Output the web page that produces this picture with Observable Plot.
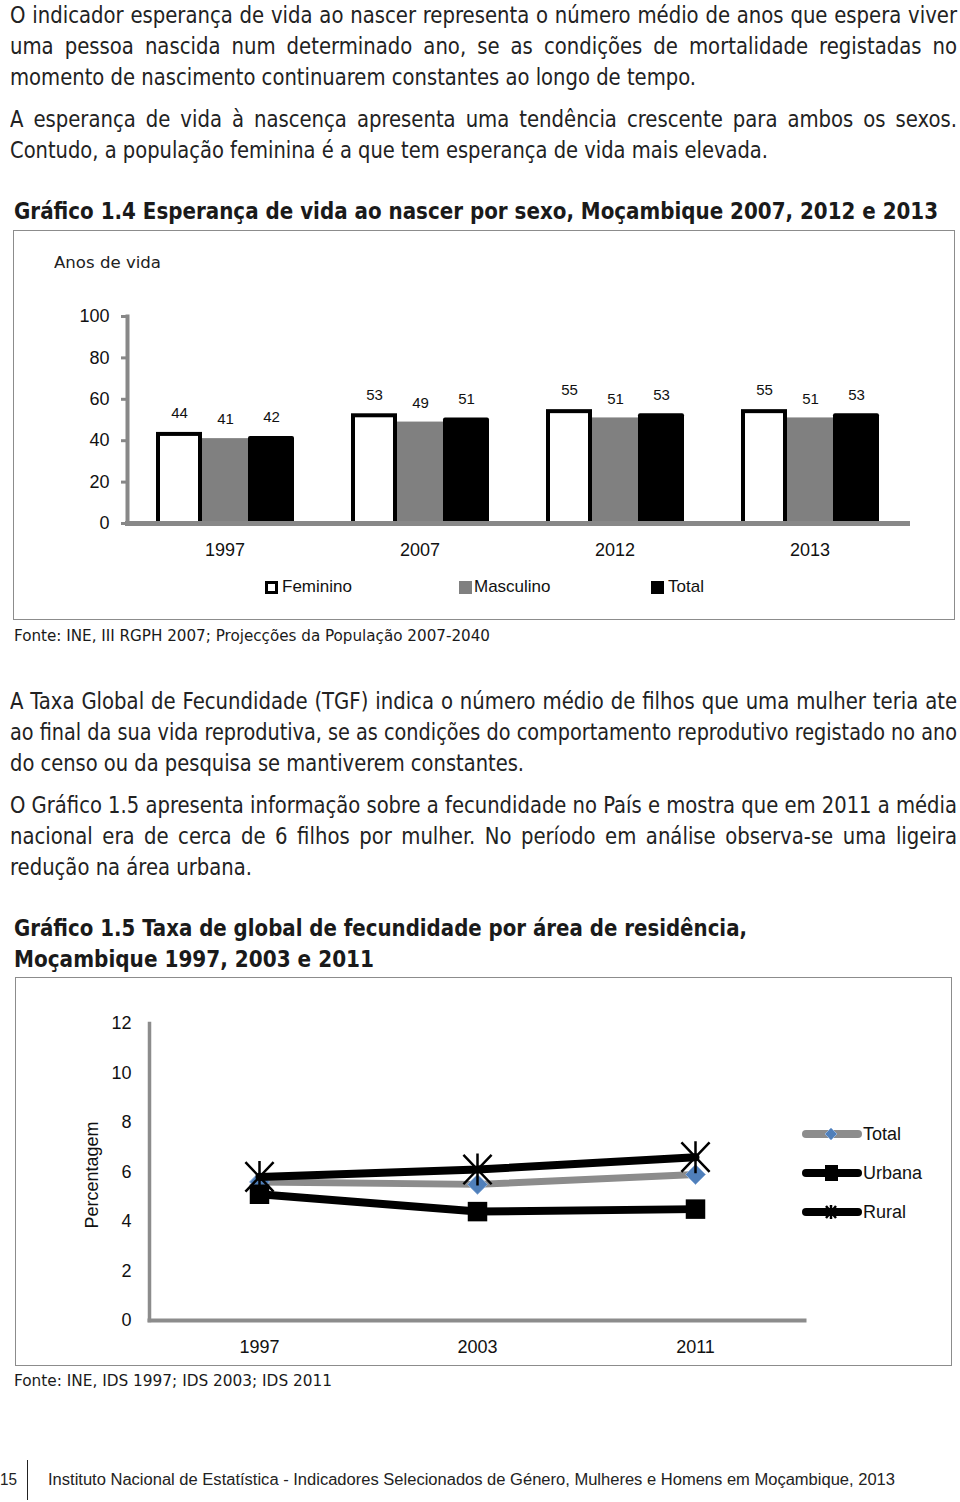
<!DOCTYPE html>
<html><head><meta charset="utf-8">
<script src="https://cdn.jsdelivr.net/npm/d3@7"></script>
<script src="https://cdn.jsdelivr.net/npm/@observablehq/plot@0.6"></script>
<style>
html,body{margin:0;padding:0;background:#fff;}
#page{position:relative;width:960px;height:1502px;overflow:hidden;font-family:"DejaVu Sans Condensed","DejaVu Sans",sans-serif;color:#222;}
.ln{position:absolute;white-space:nowrap;line-height:30px;height:30px;transform-origin:0 50%;}
.p{font-size:23px;}
.h{font-size:23px;font-weight:bold;color:#1a1a1a;}
.src{font-size:16px;color:#1a1a1a;}
.box{position:absolute;border:1px solid #8c8c8c;box-sizing:border-box;}
.box svg{position:absolute;left:0;top:0;}
.ar{font-family:"Liberation Sans",Arial,sans-serif;color:#111;}
.leg{position:absolute;font-size:17px;line-height:20px;height:20px;white-space:nowrap;}
.sw{position:absolute;box-sizing:border-box;}
</style></head>
<body><div id="page">
<div class="ln p" data-j="1" data-w="947" style="left:10px;top:0px">O indicador esperança de vida ao nascer representa o número médio de anos que espera viver</div>
<div class="ln p" data-j="1" data-w="947" style="left:10px;top:31px">uma pessoa nascida num determinado ano, se as condições de mortalidade registadas no</div>
<div class="ln p" data-w="686" style="left:10px;top:62px">momento de nascimento continuarem constantes ao longo de tempo.</div>
<div class="ln p" data-j="1" data-w="947" style="left:10px;top:104px">A esperança de vida à nascença apresenta uma tendência crescente para ambos os sexos.</div>
<div class="ln p" data-w="758" style="left:10px;top:135px">Contudo, a população feminina é a que tem esperança de vida mais elevada.</div>
<div class="ln h" data-w="924" style="left:14px;top:196px">Gráfico 1.4 Esperança de vida ao nascer por sexo, Moçambique 2007, 2012 e 2013</div>

<div class="box" id="box1" style="left:13px;top:230px;width:942px;height:390px;">
  <div class="ln" data-w="107" style="left:40px;top:17px;font-family:'DejaVu Sans',sans-serif;font-size:15px;color:#222">Anos de vida</div>
  <div id="chart1"></div>
  <div class="sw" style="left:251px;top:350px;width:13px;height:13px;border:3px solid #000;background:#fff"></div>
  <div class="leg ar" style="left:268px;top:346px">Feminino</div>
  <div class="sw" style="left:445px;top:350px;width:13px;height:13px;background:#808080"></div>
  <div class="leg ar" style="left:460px;top:346px">Masculino</div>
  <div class="sw" style="left:637px;top:350px;width:13px;height:13px;background:#000"></div>
  <div class="leg ar" style="left:654px;top:346px">Total</div>
</div>
<div class="ln src" data-w="476" style="left:14px;top:621px">Fonte: INE, III RGPH 2007; Projecções da População 2007-2040</div>

<div class="ln p" data-j="1" data-w="947" style="left:10px;top:686px">A Taxa Global de Fecundidade (TGF) indica o número médio de filhos que uma mulher teria ate</div>
<div class="ln p" data-j="1" data-w="947" style="left:10px;top:717px">ao final da sua vida reprodutiva, se as condições do comportamento reprodutivo registado no ano</div>
<div class="ln p" data-w="514" style="left:10px;top:748px">do censo ou da pesquisa se mantiverem constantes.</div>
<div class="ln p" data-j="1" data-w="947" style="left:10px;top:790px">O Gráfico 1.5 apresenta informação sobre a fecundidade no País e mostra que em 2011 a média</div>
<div class="ln p" data-j="1" data-w="947" style="left:10px;top:821px">nacional era de cerca de 6 filhos por mulher. No período em análise observa-se uma ligeira</div>
<div class="ln p" data-w="242" style="left:10px;top:852px">redução na área urbana.</div>
<div class="ln h" data-w="733" style="left:14px;top:913px">Gráfico 1.5 Taxa de global de fecundidade por área de residência,</div>
<div class="ln h" data-w="360" style="left:14px;top:944px">Moçambique 1997, 2003 e 2011</div>

<div class="box" id="box2" style="left:15px;top:977px;width:937px;height:389px;">
  <div id="chart2"></div>
  <div class="ar" style="position:absolute;left:76px;top:197px;font-size:18px;line-height:20px;white-space:nowrap;transform:translate(-50%,-50%) rotate(-90deg);">Percentagem</div>
  <div id="legend2"></div>
</div>
<div class="ln src" data-w="318" style="left:14px;top:1366px">Fonte: INE, IDS 1997; IDS 2003; IDS 2011</div>

<div class="ln ar" data-w="17" style="left:0px;top:1465px;font-size:16px;color:#222">15</div>
<div style="position:absolute;left:27px;top:1460px;width:1px;height:40px;background:#222"></div>
<div class="ln ar" data-w="847" style="left:48px;top:1465px;font-size:16px;color:#222">Instituto Nacional de Estatística - Indicadores Selecionados de Género, Mulheres e Homens em Moçambique, 2013</div>
</div>

<script>
// ---- Gráfico 1.4 data ----
const years1 = ["1997", "2007", "2012", "2013"];
const sexos = ["Feminino", "Masculino", "Total"];
const feminino = [44, 53, 55, 55];
const masculino = [41, 49, 51, 51];
const totalVida = [42, 51, 53, 53];
const yTicks1 = [0, 20, 40, 60, 80, 100];

// ---- Gráfico 1.5 data ----
const years2 = ["1997", "2003", "2011"];
const series2 = ["Total", "Urbana", "Rural"];
const tgfTotal = [5.6, 5.5, 5.9];
const tgfUrbana = [5.1, 4.4, 4.5];
const tgfRural = [5.8, 6.1, 6.6];
const yTicks2 = [0, 2, 4, 6, 8, 10, 12];

const data1 = years1.flatMap((yr, i) => [
  {year: yr, sexo: sexos[0], value: feminino[i]},
  {year: yr, sexo: sexos[1], value: masculino[i]},
  {year: yr, sexo: sexos[2], value: totalVida[i]}
]);
const data2 = [[tgfTotal, series2[0]], [tgfUrbana, series2[1]], [tgfRural, series2[2]]]
  .flatMap(([vals, s]) => years2.map((yr, i) => ({serie: s, year: yr, value: vals[i]})));

const starSymbol = {
  draw(ctx, size) {
    const r = Math.sqrt(size / Math.PI);
    ctx.moveTo(0, -r); ctx.lineTo(0, r);
    ctx.moveTo(-0.88 * r, -0.92 * r); ctx.lineTo(0.88 * r, 0.92 * r);
    ctx.moveTo(0.88 * r, -0.92 * r); ctx.lineTo(-0.88 * r, 0.92 * r);
  }
};

const font = "'Liberation Sans', Arial, sans-serif";

function chart1(useSuper) {
  const marks = [
    Plot.barY(data1.filter(d => d.sexo === "Masculino"), {fx: "year", x: "sexo", y: "value", fill: "#808080"}),
    Plot.barY(data1.filter(d => d.sexo === "Total"), {fx: "year", x: "sexo", y: "value", fill: "#000", rx: 2}),
    Plot.barY(data1.filter(d => d.sexo === "Feminino"), {fx: "year", x: "sexo", y: "value", fill: "#fff", stroke: "#000", strokeWidth: 4, insetLeft: 2, insetRight: 2, insetTop: 2}),
    Plot.text(data1, {fx: "year", x: "sexo", y: "value", text: d => String(d.value), dy: -19, fontSize: 15, fill: "#111"}),
    Plot.axisY({ticks: yTicks1, tickSize: 6, tickPadding: 12, stroke: "#888", strokeWidth: 3, fill: "#111", fontSize: 18, label: null}),
    Plot.axisFx({anchor: "bottom", tickSize: 0, tickPadding: 20, fontSize: 18, fill: "#111", label: null})
  ];
  if (useSuper) {
    marks.push(Plot.frame({anchor: "left", stroke: "#888", strokeWidth: 4, facet: "super"}));
    marks.push(Plot.frame({anchor: "bottom", stroke: "#888", strokeWidth: 5, facet: "super"}));
  } else {
    marks.push(Plot.ruleY([0], {stroke: "#888", strokeWidth: 5}));
  }
  return Plot.plot({
    width: 940, height: 342,
    marginLeft: 112, marginRight: 47, marginTop: 85, marginBottom: 50,
    style: {fontFamily: font, background: "transparent", overflow: "visible"},
    fx: {domain: years1, padding: 0, label: null},
    x: {domain: sexos, paddingInner: 0, paddingOuter: 0.588, axis: null},
    y: {domain: [0, 100], label: null},
    marks
  });
}
let p1;
try { p1 = chart1(true); } catch (e) { console.error(e); p1 = chart1(false); }
document.getElementById("chart1").appendChild(p1);

const sel = s => data2.filter(d => d.serie === s);
const p2 = Plot.plot({
  width: 935, height: 387,
  marginLeft: 133, marginRight: 147, marginTop: 45, marginBottom: 45,
  style: {fontFamily: font, background: "transparent", overflow: "visible"},
  x: {type: "point", domain: years2, padding: 0.5, label: null},
  y: {domain: [0, 12], label: null},
  marks: [
    Plot.frame({anchor: "left", stroke: "#8c8c8c", strokeWidth: 3.5}),
    Plot.frame({anchor: "bottom", stroke: "#8c8c8c", strokeWidth: 4}),
    Plot.axisY({ticks: yTicks2, tickSize: 0, tickPadding: 18, fontSize: 18, fill: "#111", label: null}),
    Plot.axisX({tickSize: 0, tickPadding: 20, fontSize: 18, fill: "#111", label: null}),
    Plot.line(sel("Total"), {x: "year", y: "value", stroke: "#8c8c8c", strokeWidth: 7}),
    Plot.dot(sel("Total"), {x: "year", y: "value", symbol: "diamond2", r: 9, fill: "#4f7fba", stroke: "#8fb0da", strokeWidth: 1}),
    Plot.line(sel("Urbana"), {x: "year", y: "value", stroke: "#000", strokeWidth: 8}),
    Plot.dot(sel("Urbana"), {x: "year", y: "value", symbol: "square", r: 11, fill: "#000"}),
    Plot.line(sel("Rural"), {x: "year", y: "value", stroke: "#000", strokeWidth: 8}),
    Plot.dot(sel("Rural"), {x: "year", y: "value", symbol: starSymbol, r: 16, fill: "none", stroke: "#000", strokeWidth: 2.5})
  ]
});
document.getElementById("chart2").appendChild(p2);

// legend for chart 2
const legendDefs = [
  {name: series2[0], top: 146, stroke: "#8c8c8c", marker: '<path d="M30,4 L36,10 L30,16 L24,10 Z" fill="#4f7fba" stroke="#8fb0da" stroke-width="1"/>'},
  {name: series2[1], top: 185, stroke: "#000", marker: '<rect x="24" y="2" width="13" height="16" fill="#000"/>'},
  {name: series2[2], top: 224, stroke: "#000", marker: '<path d="M30,3 V17 M25,4 L35,16 M35,4 L25,16" stroke="#000" stroke-width="2.5"/>'}
];
const lg = document.getElementById("legend2");
legendDefs.forEach(d => {
  const item = document.createElement("div");
  item.innerHTML = `<svg width="62" height="20" style="position:absolute;left:785px;top:${d.top}px;overflow:visible"><line x1="5" y1="10" x2="57" y2="10" stroke="${d.stroke}" stroke-width="8" stroke-linecap="round"/>${d.marker}</svg><div class="leg ar" style="left:847px;top:${d.top}px;font-size:18px">${d.name}</div>`;
  lg.appendChild(item);
});

function fitLines() {
  document.querySelectorAll(".ln").forEach(el => {
    const target = +el.dataset.w;
    const just = el.dataset.j === "1";
    const c = el.classList.contains("p") ? 0.95 : 1;
    el.style.wordSpacing = ""; el.style.transform = "";
    const w = el.getBoundingClientRect().width;
    const spaces = (el.textContent.match(/ /g) || []).length;
    if (just && w * c < target && spaces > 0) {
      el.style.wordSpacing = ((target - w * c) / spaces / c) + "px";
      el.style.transform = `scaleX(${c})`;
    } else el.style.transform = `scaleX(${target / w})`;
  });
}
fitLines();
if (document.fonts && document.fonts.ready) document.fonts.ready.then(fitLines);
</script>
</body></html>
